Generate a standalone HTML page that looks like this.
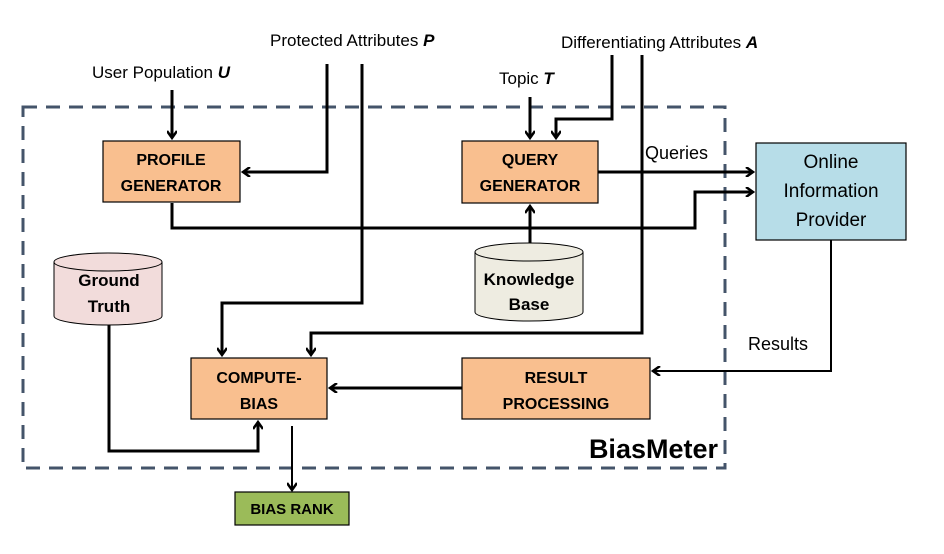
<!DOCTYPE html>
<html><head><meta charset="utf-8"><style>
html,body{margin:0;padding:0;background:#fff;}
svg{display:block;}
text{font-family:"Liberation Sans",sans-serif;}
</style></head><body>
<svg width="944" height="554" viewBox="0 0 944 554" xmlns="http://www.w3.org/2000/svg">
<defs>
<marker id="ah" markerWidth="10" markerHeight="10" refX="8" refY="5" orient="auto" markerUnits="userSpaceOnUse">
<path d="M1,0 L8,5 L1,10" fill="none" stroke="#000" stroke-width="2.5"/>
</marker>
</defs>
<rect x="23" y="107" width="702" height="361" fill="none" stroke="#44546a" stroke-width="3" stroke-dasharray="14,9"/>

<g font-size="17" fill="#000">
<text x="270" y="46">Protected Attributes <tspan font-weight="bold" font-style="italic">P</tspan></text>
<text x="92" y="78">User Population <tspan font-weight="bold" font-style="italic">U</tspan></text>
<text x="561" y="48">Differentiating Attributes <tspan font-weight="bold" font-style="italic">A</tspan></text>
<text x="499" y="84">Topic <tspan font-weight="bold" font-style="italic">T</tspan></text>
<text x="645" y="159" font-size="18">Queries</text>
<text x="748" y="350" font-size="18">Results</text>
</g>
<text x="718" y="458" text-anchor="end" font-size="27" font-weight="bold">BiasMeter</text>

<g fill="none" stroke="#000" stroke-width="3">
<path d="M172,90 V138" marker-end="url(#ah)"/>
<path d="M327,64 V172 H243" marker-end="url(#ah)"/>
<path d="M362,64 V303 H222 V355" marker-end="url(#ah)"/>
<path d="M172,203 V228 H695 V192 H753" marker-end="url(#ah)"/>
<path d="M598,172 H753" marker-end="url(#ah)"/>
<path d="M530,97 V138" marker-end="url(#ah)"/>
<path d="M612,55 V119 H556 V138" marker-end="url(#ah)"/>
<path d="M642,55 V333 H311 V355" marker-end="url(#ah)"/>
<path d="M530,243 V206" marker-end="url(#ah)"/>
<path d="M462,388 H330" marker-end="url(#ah)"/>
<path d="M109,325 V451 H258 V422" marker-end="url(#ah)"/>
</g>
<g fill="none" stroke="#000" stroke-width="2">
<path d="M831,240 V371 H653" marker-end="url(#ah)"/>
<path d="M292,426 V490" marker-end="url(#ah)"/>
</g>

<g stroke="#000" stroke-width="1.2">
<rect x="103" y="141" width="137" height="61" fill="#f9bf8f"/>
<rect x="462" y="141" width="136" height="62" fill="#f9bf8f"/>
<rect x="756" y="143" width="150" height="97" fill="#b7dde8"/>
<rect x="191" y="358" width="136" height="61" fill="#f9bf8f"/>
<rect x="462" y="358" width="188" height="61" fill="#f9bf8f"/>
<rect x="235" y="492" width="114" height="33" fill="#9bbb59"/>
</g>

<g stroke="#000" stroke-width="1">
<path d="M54,262 V316 A54,9 0 0 0 162,316 V262" fill="#f2dcdb"/>
<ellipse cx="108" cy="262" rx="54" ry="9" fill="#f2dcdb"/>
<path d="M475,252 V312 A54,9 0 0 0 583,312 V252" fill="#eeece1"/>
<ellipse cx="529" cy="252" rx="54" ry="9" fill="#eeece1"/>
</g>

<g font-weight="bold" font-size="16" text-anchor="middle" fill="#000">
<text x="171" y="165">PROFILE</text>
<text x="171" y="191">GENERATOR</text>
<text x="530" y="165">QUERY</text>
<text x="530" y="191">GENERATOR</text>
<text x="259" y="383">COMPUTE-</text>
<text x="259" y="409">BIAS</text>
<text x="556" y="383">RESULT</text>
<text x="556" y="409">PROCESSING</text>
<text x="292" y="514" font-size="15">BIAS RANK</text>
<text x="109" y="286" font-size="17">Ground</text>
<text x="109" y="312" font-size="17">Truth</text>
<text x="529" y="285" font-size="17">Knowledge</text>
<text x="529" y="310" font-size="17">Base</text>
</g>
<g font-size="19" text-anchor="middle" fill="#000">
<text x="831" y="168">Online</text>
<text x="831" y="197">Information</text>
<text x="831" y="226">Provider</text>
</g>
</svg>
</body></html>
